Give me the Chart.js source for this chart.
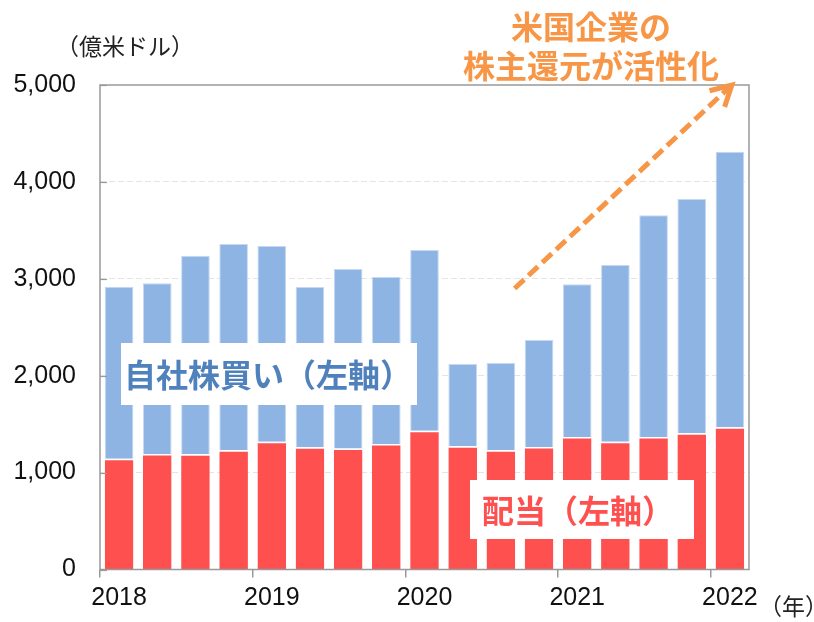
<!DOCTYPE html>
<html lang="ja">
<head>
<meta charset="utf-8">
<title>米国企業の株主還元</title>
<script src="https://cdn.jsdelivr.net/npm/chart.js@4"></script>
<style>
  html, body { margin: 0; padding: 0; background: #fff; }
  #wrap { width: 814px; height: 622px; }
</style>
</head>
<body>
<div id="wrap"><canvas id="chart-returns" width="814" height="622"></canvas></div>
<script>
// quarterly, 2018Q1 .. 2022Q1 (億米ドル)
const quarters = ['2018', '', '', '', '2019', '', '', '', '2020', '', '', '', '2021', '', '', '', '2022'];
const dividends = [1144, 1192, 1189, 1230, 1319, 1261, 1250, 1295, 1433, 1271, 1230, 1264, 1367, 1319, 1367, 1405, 1467];
const buybacks = [1774, 1762, 2049, 2129, 2019, 1654, 1851, 1723, 1864, 850, 901, 1104, 1576, 1823, 2288, 2418, 2845];
const yTicks = [0, 1000, 2000, 3000, 4000, 5000];

const unitLabel = '（億米ドル）';
const yearLabel = '（年）';
const headline = ['米国企業の', '株主還元が活性化'];
const buybackLabel = '自社株買い（左軸）';
const dividendLabel = '配当（左軸）';

// arrow from / to, in data units (category index, 億米ドル)
const arrowFrom = { x: 10.36, y: 2900 };
const arrowTo = { x: 16.05, y: 5000 };

const BLUE = '#8DB4E2';
const RED = '#FF5050';
const ORANGE = '#F79646';
const AXIS = '#999999';
const NUM_FONT = '"Liberation Sans", Arial, sans-serif';
const JP_FONT = '"Noto Sans CJK JP", "Noto Sans", sans-serif';

// frame, inner y ticks, labels and arrow
const decorPlugin = {
  id: 'decor',
  afterDatasetsDraw(chart) {
    const { ctx, chartArea: a, scales: { x, y } } = chart;
    ctx.save();

    // plot frame
    ctx.strokeStyle = AXIS;
    ctx.lineWidth = 1.5;
    ctx.strokeRect(a.left, a.top, a.right - a.left, a.bottom - a.top);

    // small inner tick marks on y axis
    ctx.lineWidth = 1.2;
    yTicks.forEach(v => {
      const py = Math.round(y.getPixelForValue(v)) + 0.5;
      ctx.beginPath();
      ctx.moveTo(a.left, py);
      ctx.lineTo(a.left + 7, py);
      ctx.stroke();
    });

    // series labels on white boxes
    ctx.textBaseline = 'middle';
    ctx.textAlign = 'left';
    ctx.font = 'bold 32px ' + JP_FONT;
    ctx.fillStyle = '#ffffff';
    ctx.fillRect(121, 343, 296, 62);
    ctx.fillStyle = '#4F81BD';
    ctx.fillText(buybackLabel, 124, 375);

    ctx.fillStyle = '#ffffff';
    ctx.fillRect(470, 480, 224, 59);
    ctx.fillStyle = RED;
    ctx.fillText(dividendLabel, 482, 511);

    // unit and year labels
    ctx.fillStyle = '#222';
    ctx.font = '23px ' + JP_FONT;
    ctx.fillText(unitLabel, 56, 46);
    ctx.fillText(yearLabel, 759, 606);

    // headline
    ctx.fillStyle = ORANGE;
    ctx.textAlign = 'center';
    ctx.font = 'bold 32px ' + JP_FONT;
    ctx.fillText(headline[0], 591, 27);
    ctx.fillText(headline[1], 591, 66);

    // dashed trend arrow
    const x1 = x.getPixelForValue(arrowFrom.x), y1 = y.getPixelForValue(arrowFrom.y);
    const x2 = x.getPixelForValue(arrowTo.x), y2 = y.getPixelForValue(arrowTo.y);
    const ang = Math.atan2(y2 - y1, x2 - x1);
    ctx.strokeStyle = ORANGE;
    ctx.lineWidth = 5;
    ctx.setLineDash([13, 6]);
    ctx.beginPath();
    ctx.moveTo(x1, y1);
    ctx.lineTo(x2 - 4 * Math.cos(ang), y2 - 4 * Math.sin(ang));
    ctx.stroke();
    ctx.setLineDash([]);
    ctx.lineCap = 'butt';
    ctx.lineJoin = 'miter';
    ctx.beginPath();
    ctx.moveTo(x2 - 23 * Math.cos(ang - 0.5), y2 - 23 * Math.sin(ang - 0.5));
    ctx.lineTo(x2, y2);
    ctx.lineTo(x2 - 23 * Math.cos(ang + 0.5), y2 - 23 * Math.sin(ang + 0.5));
    ctx.stroke();

    ctx.restore();
  }
};

const canvas = document.getElementById('chart-returns');
new Chart(canvas.getContext('2d'), {
  type: 'bar',
  data: {
    labels: quarters,
    datasets: [
      {
        label: '配当',
        data: dividends,
        backgroundColor: RED,
        borderColor: '#ffffff',
        borderWidth: { top: 1.5, left: 0, right: 0, bottom: 0 },
        borderSkipped: false,
        barPercentage: 0.75,
        categoryPercentage: 1,
      },
      {
        label: '自社株買い',
        data: buybacks,
        backgroundColor: BLUE,
        borderColor: '#c6d9f1',
        borderWidth: { top: 1, left: 1, right: 1, bottom: 0 },
        borderSkipped: false,
        barPercentage: 0.75,
        categoryPercentage: 1,
      }
    ]
  },
  options: {
    responsive: false,
    animation: false,
    events: [],
    layout: { padding: { left: 0, top: 85, right: 65, bottom: 0 } },
    scales: {
      x: {
        stacked: true,
        afterFit: s => { s.height = 52.5; },
        border: { display: false },
        grid: {
          offset: true,
          drawOnChartArea: false,
          drawTicks: true,
          tickLength: 8,
          lineWidth: 1.5,
          color: c => (c.index !== undefined && c.index % 4 === 0) ? AXIS : 'rgba(0,0,0,0)',
        },
        ticks: {
          autoSkip: false,
          maxRotation: 0,
          padding: 6,
          color: '#111',
          font: { family: NUM_FONT, size: 25 },
        }
      },
      y: {
        stacked: true,
        min: 0,
        max: 5000,
        afterFit: s => { s.width = 100; },
        afterBuildTicks: s => { s.ticks = yTicks.map(v => ({ value: v })); },
        border: { display: false, dash: [6, 3] },
        grid: {
          drawTicks: false,
          color: c => (c.tick && (c.tick.value === 0 || c.tick.value === 5000)) ? 'rgba(0,0,0,0)' : '#e4e4e4',
          lineWidth: 1,
        },
        ticks: {
          padding: 24,
          color: '#111',
          font: { family: NUM_FONT, size: 25 },
          callback: v => v.toLocaleString('en-US'),
        }
      }
    },
    plugins: {
      legend: { display: false },
      tooltip: { enabled: false },
    }
  },
  plugins: [decorPlugin]
});
</script>
</body>
</html>
